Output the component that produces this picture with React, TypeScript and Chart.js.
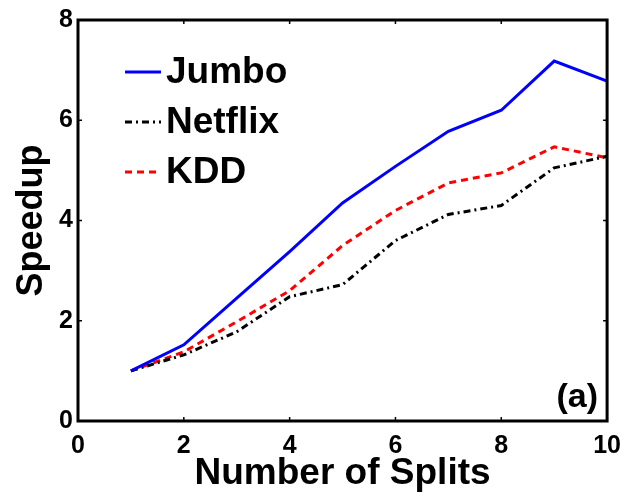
import React, { useEffect, useRef } from "react";
import { Chart, registerables } from "chart.js";

Chart.register(...registerables);

const splits = [1, 2, 3, 4, 5, 6, 7, 8, 9, 10];
const jumbo = [1.0, 1.52, 2.45, 3.38, 4.35, 5.08, 5.78, 6.2, 7.18, 6.78];
const netflix = [1.0, 1.32, 1.78, 2.48, 2.72, 3.6, 4.12, 4.3, 5.05, 5.28];
const kdd = [1.0, 1.38, 1.98, 2.6, 3.5, 4.2, 4.75, 4.95, 5.47, 5.25];
const xTicks = [0, 2, 4, 6, 8, 10];
const yTicks = [0, 2, 4, 6, 8];
const panelLabel = "(a)";

const FONT = "'Liberation Sans', Arial, Helvetica, sans-serif";

const framePlugin = {
  id: "frame",
  afterDatasetsDraw(chart: any) {
    const { ctx, chartArea: a, scales } = chart;
    ctx.save();
    ctx.strokeStyle = "#000";
    ctx.lineWidth = 1.5;
    const tl = 4;
    xTicks.forEach((v) => {
      const px = scales.x.getPixelForValue(v);
      ctx.beginPath();
      ctx.moveTo(px, a.bottom);
      ctx.lineTo(px, a.bottom - tl);
      ctx.moveTo(px, a.top);
      ctx.lineTo(px, a.top + tl);
      ctx.stroke();
    });
    yTicks.forEach((v) => {
      const py = scales.y.getPixelForValue(v);
      ctx.beginPath();
      ctx.moveTo(a.left, py);
      ctx.lineTo(a.left + tl, py);
      ctx.moveTo(a.right, py);
      ctx.lineTo(a.right - tl, py);
      ctx.stroke();
    });
    ctx.lineWidth = 3;
    ctx.strokeRect(a.left, a.top, a.right - a.left, a.bottom - a.top);

    // legend
    const lx = 125;
    const ly = 72;
    const gap = 50;
    chart.data.datasets.forEach((ds: any, i: number) => {
      const y = ly + i * gap;
      ctx.save();
      ctx.strokeStyle = ds.borderColor;
      ctx.lineWidth = ds.borderWidth;
      ctx.setLineDash(ds.borderDash || []);
      ctx.beginPath();
      ctx.moveTo(lx, y);
      ctx.lineTo(lx + 36, y);
      ctx.stroke();
      ctx.restore();
      ctx.fillStyle = "#000";
      ctx.font = `bold 37px ${FONT}`;
      ctx.textBaseline = "middle";
      ctx.textAlign = "left";
      ctx.fillText(ds.label, lx + 41, y + 1);
    });

    ctx.font = `bold 34px ${FONT}`;
    ctx.textAlign = "right";
    ctx.textBaseline = "middle";
    ctx.fillStyle = "#000";
    ctx.fillText(panelLabel, a.right - 9, a.bottom - 23);
    ctx.restore();
  },
};

export default function App() {
  const ref = useRef<HTMLCanvasElement>(null);
  useEffect(() => {
    document.body.style.margin = "0";
    const mk = (arr: number[]) => splits.map((x, i) => ({ x, y: arr[i] }));
    const chart = new Chart(ref.current as HTMLCanvasElement, {
      type: "line",
      data: {
        datasets: [
          { label: "Jumbo", data: mk(jumbo), borderColor: "#0000ff", borderWidth: 3, pointRadius: 0, tension: 0 },
          { label: "Netflix", data: mk(netflix), borderColor: "#000000", borderWidth: 3, borderDash: [7, 4, 2, 4], pointRadius: 0, tension: 0 },
          { label: "KDD", data: mk(kdd), borderColor: "#ff0000", borderWidth: 3, borderDash: [7, 5], pointRadius: 0, tension: 0 },
        ],
      },
      options: {
        animation: false,
        responsive: false,
        layout: { padding: { left: 0, top: 15, right: 18, bottom: 0 } },
        plugins: { legend: { display: false }, tooltip: { enabled: false } },
        scales: {
          x: {
            type: "linear",
            min: 0,
            max: 10,
            afterBuildTicks: (s: any) => { s.ticks = xTicks.map((v) => ({ value: v })); },
            afterFit: (s: any) => { s.height = 75; },
            grid: { display: false, drawTicks: false },
            border: { display: false },
            ticks: { color: "#000", padding: 10, font: { family: FONT, size: 25, weight: "bold" }, maxRotation: 0 },
            title: { display: true, text: "Number of Splits", color: "#000", padding: { top: 0, bottom: 0 }, font: { family: FONT, size: 37, weight: "bold" } },
          },
          y: {
            type: "linear",
            min: 0,
            max: 8,
            afterBuildTicks: (s: any) => { s.ticks = yTicks.map((v) => ({ value: v })); },
            afterFit: (s: any) => { s.width = 78; },
            grid: { display: false, drawTicks: false },
            border: { display: false },
            ticks: { color: "#000", padding: 5, font: { family: FONT, size: 25, weight: "bold" } },
            title: { display: true, text: "Speedup", color: "#000", padding: { top: 10, bottom: 0 }, font: { family: FONT, size: 36, weight: "bold" } },
          },
        },
      },
      plugins: [framePlugin],
    } as any);
    return () => chart.destroy();
  }, []);
  return (
    <div style={{ position: "absolute", left: 0, top: 0, width: 631, height: 496, background: "#fff" }}>
      <canvas ref={ref} width={631} height={496} style={{ width: 631, height: 496 }} />
    </div>
  );
}
